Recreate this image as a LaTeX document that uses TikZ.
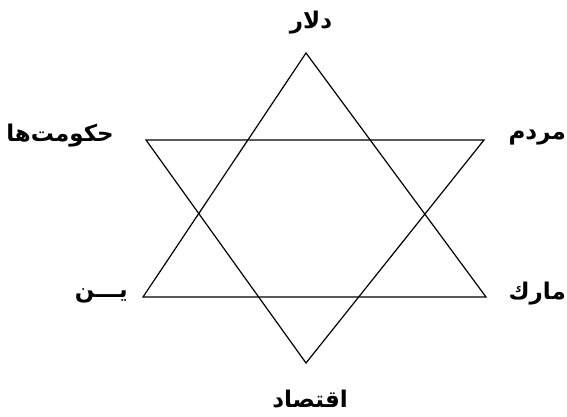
\documentclass[tikz,border=0pt]{standalone}
\usepackage{fontspec}
\newfontfamily\arabicfont[Script=Arabic]{DejaVu Sans}
\TeXXeTstate=1
\tikzset{
  lbl/.style={font=\arabicfont\bfseries\fontsize{23}{26}\selectfont, inner sep=0pt},
  edge/.style={draw=black, line width=1.2pt, line join=miter}
}
\begin{document}
\begin{tikzpicture}[x=1pt,y=-1pt]
\useasboundingbox (0,0) rectangle (567,417);
% vertices
\coordinate (T) at (306,53);
\coordinate (BL) at (143,297);
\coordinate (BR) at (486,297);
\coordinate (TL) at (146,140);
\coordinate (TR) at (484,140);
\coordinate (B) at (306,363);
\draw[edge] (T) -- (BL) -- (BR) -- cycle;
\draw[edge] (TL) -- (TR) -- (B) -- cycle;
% labels
\node[lbl] (dollar) at (311,23) {\beginR دلار\endR};
\node[lbl,anchor=east] (govts) at (114,136) {\beginR حکومت‌ها\endR};
\node[lbl,anchor=east] (people) at (566,138) {\beginR مردم\endR};
\node[lbl,anchor=east] (yen) at (128,296) {\beginR یـــن\endR};
\node[lbl,anchor=east] (mark) at (566,294) {\beginR مارك\endR};
\node[lbl] (economy) at (310,399) {\beginR اقتصاد\endR};
\end{tikzpicture}
\end{document}
